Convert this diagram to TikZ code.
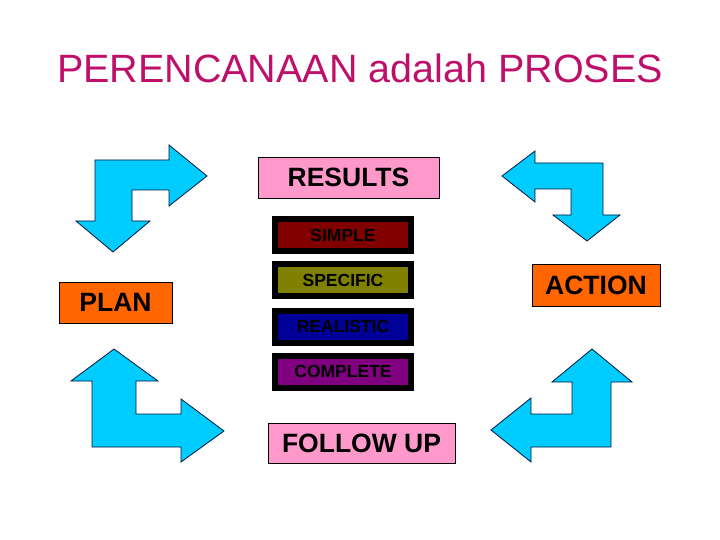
\documentclass[tikz,border=0pt]{standalone}
\usepackage{fontspec}
\setmainfont{Liberation Sans}
\usepackage{xcolor}
\usepackage{tikz}
\usetikzlibrary{shapes, positioning}

\definecolor{titlepink}{RGB}{190,16,106}
\definecolor{boxpink}{RGB}{255,153,204}
\definecolor{boxorange}{RGB}{255,102,0}
\definecolor{turn}{RGB}{0,204,255}
\definecolor{turnline}{RGB}{0,20,60}
\definecolor{simplered}{RGB}{128,0,0}
\definecolor{specolive}{RGB}{128,128,0}
\definecolor{realblue}{RGB}{0,0,153}
\definecolor{complpurple}{RGB}{128,0,128}

\begin{document}
\begin{tikzpicture}
  [
    x=1pt, y=-1pt,
    Pink/.style={rectangle, draw=black, fill=boxpink, line width=0.8pt, inner sep=0pt, font=\bfseries\fontsize{26.5}{31}\selectfont},
    Orange/.style={rectangle, draw=black, fill=boxorange, line width=0.8pt, inner sep=0pt, font=\bfseries\fontsize{26.5}{31}\selectfont},
    Tag/.style={rectangle, draw=black, line width=6pt, inner sep=0pt, minimum width=136pt, minimum height=32pt, font=\bfseries\fontsize{17.5}{20}\selectfont},
    Turn/.style={fill=turn, draw=turnline, line width=0.8pt, line join=miter}
  ]
  \useasboundingbox (0,0) rectangle (720,540);

  % Title
  \node[text=titlepink, font=\fontsize{39.5}{44}\selectfont] (title) at (360, 68) {PERENCANAAN adalah PROSES};

  % Nodes
  \node[Pink, minimum width=181pt, minimum height=41pt] (results) at (348.5, 177.5) {RESULTS};

  \node[Tag, fill=simplered] (simple) at (343, 235) {SIMPLE};

  \node[Tag, fill=specolive] (specific) at (343, 280) {SPECIFIC};

  \node[Tag, fill=realblue] (realistic) at (343, 326.5) {REALISTIC};

  \node[Tag, fill=complpurple] (complete) at (343, 371.5) {COMPLETE};

  \node[Pink, minimum width=187pt, minimum height=40pt] (followup) at (361.5, 443) {FOLLOW UP};

  \node[Orange, minimum width=113pt, minimum height=41pt] (plan) at (115.5, 302.5) {PLAN};

  \node[Orange, minimum width=128pt, minimum height=42pt] (action) at (596, 285) {ACTION};

  % Turning arrows
  \draw[Turn] (95,160) -- (169,160) -- (169,145) -- (207,176) -- (169,206) -- (169,190)
    -- (132,190) -- (132,221) -- (150,221) -- (113,252) -- (76,221) -- (95,221) -- cycle;

  \draw[Turn] (502,176) -- (535,151) -- (535,163) -- (603,163) -- (603,215) -- (620,215)
    -- (587,241) -- (553,215) -- (571,215) -- (571,189) -- (535,189) -- (535,202) -- cycle;

  \draw[Turn] (114,349) -- (158,381) -- (136,381) -- (136,414) -- (181,414) -- (181,399)
    -- (224,431) -- (181,462) -- (181,447) -- (92,447) -- (92,381) -- (71,381) -- cycle;

  \draw[Turn] (592,349) -- (632,382) -- (611,382) -- (611,447) -- (531,447) -- (531,462)
    -- (491,430) -- (531,398) -- (531,414) -- (572,414) -- (572,382) -- (552,382) -- cycle;

\end{tikzpicture}
\end{document}
